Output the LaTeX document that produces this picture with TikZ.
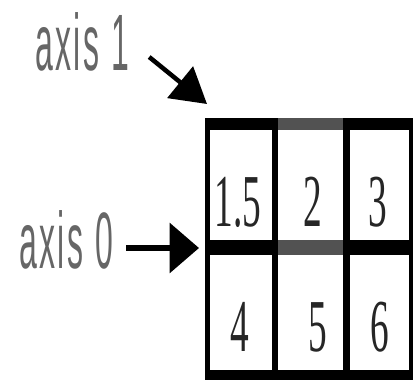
\documentclass[tikz,border=0pt]{standalone}
\usepackage{fontspec}
\setmainfont{Liberation Serif}
\newfontfamily\labelfont[LetterSpace=8]{Liberation Sans}
\usetikzlibrary{arrows.meta,calc}
\begin{document}
\begin{tikzpicture}[x=0.75pt,y=-0.75pt,
  lbl/.style={text=black!60,inner sep=0pt,font=\labelfont\fontsize{24}{26}\selectfont},
  num/.style={inner sep=0pt,text=black!85,font=\fontsize{28}{30}\selectfont},
  band/.style={fill=black,draw=none},
  gband/.style={fill=black!68,draw=none},
  arr/.style={line width=3.8pt,-{Triangle[length=22pt,width=37pt]}},
  arrb/.style={line width=3.4pt,-{Triangle[length=26pt,width=30pt]}}]
\useasboundingbox (0,0) rectangle (413,382);
% grid bands
\fill[band] (205,118) rectangle (413,130);
\fill[gband] (278,118) rectangle (343,130);
\fill[band] (205,240) rectangle (413,255);
\fill[gband] (278,240) rectangle (343,255);
\fill[band] (205,370) rectangle (413,380);
\fill[band] (205,118) rectangle (210,380);
\fill[band] (272,118) rectangle (278,380);
\fill[band] (343,118) rectangle (350,380);
\fill[band] (409,118) rectangle (413,380);
% cell values
\node[num] (c11) at (238,202) {\scalebox{1}[2]{1.5}};
\node[num] (c12) at (313,202) {\scalebox{1}[2]{2}};
\node[num] (c13) at (378,202) {\scalebox{1}[2]{3}};
\node[num] (c21) at (240,327) {\scalebox{1}[2]{4}};
\node[num] (c22) at (318,327) {\scalebox{1}[2]{5}};
\node[num] (c23) at (380,327) {\scalebox{1}[2]{6}};
% labels
\node[lbl] (a1) at (82,42) {\scalebox{1}[2.5]{axis 1}};
\node[lbl] (a0) at (66,240) {\scalebox{1}[2.5]{axis 0}};
\coordinate (t1) at (207,104);
\coordinate (t0) at (199,248);
\draw[arrb] ($(a1.east)+(20,15)$) -- (t1);
\draw[arr] ($(a0.east |- t0)+(13,0)$) -- (t0);
\end{tikzpicture}
\end{document}
